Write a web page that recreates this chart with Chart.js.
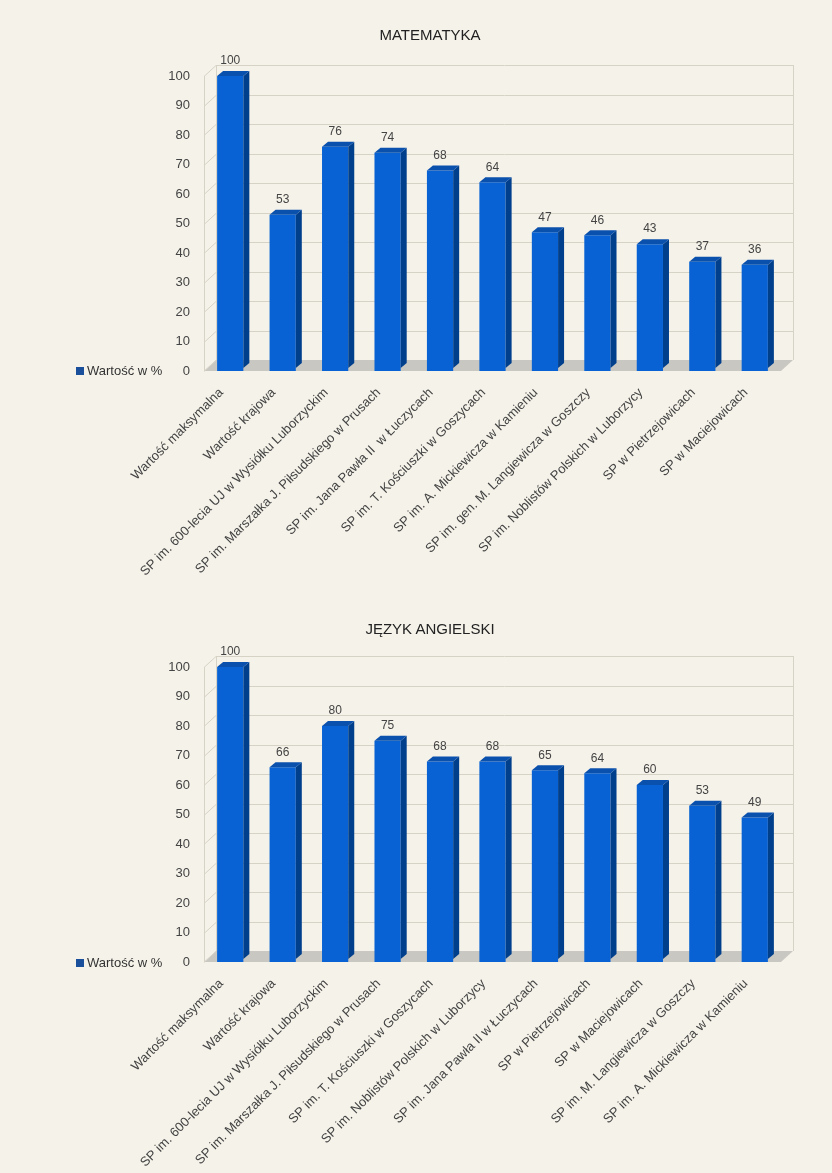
<!DOCTYPE html>
<html>
<head>
<meta charset="utf-8">
<script src="https://cdn.jsdelivr.net/npm/chart.js@4/dist/chart.umd.min.js"></script>
<style>
  html, body { margin: 0; padding: 0; background: #f5f2e9; overflow: hidden; }
  body { width: 832px; height: 1173px; font-family: "Liberation Sans", Arial, sans-serif; }
  .box { position: absolute; left: 0; width: 832px; height: 590px; }
  .title { position: absolute; left: 230px; width: 400px; text-align: center; font-size: 15px; line-height: 17px; color: #222; }
  .legend { position: absolute; left: 76px; font-size: 13px; line-height: 15px; color: #333; }
  .legend span { display: inline-block; width: 8px; height: 8px; background: #1a4f9c; margin-right: 3px; }
</style>
</head>
<body>

<div class="box" style="top:0">
  <canvas id="mat" width="832" height="590"></canvas>
  <div class="title" style="top:26px">MATEMATYKA</div>
  <div class="legend" style="top:363px"><span></span>Wartość w %</div>
</div>

<div class="box" style="top:591px">
  <canvas id="ang" width="832" height="590"></canvas>
  <div class="title" style="top:29px">JĘZYK ANGIELSKI</div>
  <div class="legend" style="top:364px"><span></span>Wartość w %</div>
</div>

<script>
// ---------------------- DATA ---------------------
const matLabels = [
  "Wartość maksymalna",
  "Wartość krajowa",
  "SP im. 600-lecia UJ w Wysiółku Luborzyckim",
  "SP im. Marszałka J. Piłsudskiego w Prusach",
  "SP im. Jana Pawła II  w Łuczycach",
  "SP im. T. Kościuszki w Goszycach",
  "SP im. A. Mickiewicza w Kamieniu",
  "SP im. gen. M. Langiewicza w Goszczy",
  "SP im. Noblistów Polskich w Luborzycy",
  "SP w Pietrzejowicach",
  "SP w Maciejowicach"
];
const matValues = [100, 53, 76, 74, 68, 64, 47, 46, 43, 37, 36];

const angLabels = [
  "Wartość maksymalna",
  "Wartość krajowa",
  "SP im. 600-lecia UJ w Wysiółku Luborzyckim",
  "SP im. Marszałka J. Piłsudskiego w Prusach",
  "SP im. T. Kościuszki w Goszycach",
  "SP im. Noblistów Polskich w Luborzycy",
  "SP im. Jana Pawła II w Łuczycach",
  "SP w Pietrzejowicach",
  "SP w Maciejowicach",
  "SP im. M. Langiewicza w Goszczy",
  "SP im. A. Mickiewicza w Kamieniu"
];
const angValues = [100, 66, 80, 75, 68, 68, 65, 64, 60, 53, 49];

const seriesName = "Wartość w %";

// ---------------------- 3D LOOK ---------------------
const wallPlugin = {
  id: "wall",
  beforeDatasetsDraw(chart) {
    const { ctx, chartArea: a, scales } = chart;
    const dx = 12, dy = 11;
    ctx.save();
    // floor
    ctx.fillStyle = "#c9c7c1";
    ctx.beginPath();
    ctx.moveTo(a.left, a.bottom);
    ctx.lineTo(a.right, a.bottom);
    ctx.lineTo(a.right + dx, a.bottom - dy);
    ctx.lineTo(a.left + dx, a.bottom - dy);
    ctx.closePath();
    ctx.fill();
    // grid on the back and left walls
    ctx.strokeStyle = "#d6d2c6";
    ctx.lineWidth = 1;
    scales.y.ticks.forEach(t => {
      const py = Math.round(scales.y.getPixelForValue(t.value)) + 0.5;
      ctx.beginPath();
      ctx.moveTo(a.left, py);
      ctx.lineTo(a.left + dx, py - dy);
      if (t.value > 0) ctx.lineTo(a.right + dx, py - dy);
      ctx.stroke();
    });
    ctx.beginPath();
    ctx.moveTo(a.left + 0.5, a.top);
    ctx.lineTo(a.left + 0.5, a.bottom);
    ctx.moveTo(a.left + dx + 0.5, a.top - dy);
    ctx.lineTo(a.left + dx + 0.5, a.bottom - dy);
    ctx.moveTo(a.right + dx + 0.5, a.top - dy);
    ctx.lineTo(a.right + dx + 0.5, a.bottom - dy);
    ctx.stroke();
    ctx.restore();
  },
  afterDatasetsDraw(chart) {
    const { ctx } = chart;
    const meta = chart.getDatasetMeta(0);
    const values = chart.data.datasets[0].data;
    const d = 6;
    ctx.save();
    meta.data.forEach((bar, i) => {
      const x1 = bar.x - bar.width / 2, x2 = bar.x + bar.width / 2;
      const top = bar.y, base = bar.base - 3;
      // side
      ctx.fillStyle = "#003f8c";
      ctx.beginPath();
      ctx.moveTo(x2, top);
      ctx.lineTo(x2 + d, top - d + 1);
      ctx.lineTo(x2 + d, base - d + 1);
      ctx.lineTo(x2, base);
      ctx.closePath();
      ctx.fill();
      // cap
      ctx.fillStyle = "#0a50ad";
      ctx.beginPath();
      ctx.moveTo(x1, top);
      ctx.lineTo(x1 + d, top - d + 1);
      ctx.lineTo(x2 + d, top - d + 1);
      ctx.lineTo(x2, top);
      ctx.closePath();
      ctx.fill();
      // value label
      ctx.fillStyle = "#444";
      ctx.font = "12px 'Liberation Sans', Arial, sans-serif";
      ctx.textAlign = "center";
      ctx.textBaseline = "bottom";
      ctx.fillText(values[i], bar.x, top - 9);
    });
    ctx.restore();
  }
};

// ---------------------- CHARTS ---------------------
function makeChart(id, labels, values) {
  return new Chart(document.getElementById(id).getContext("2d"), {
    type: "bar",
    data: {
      labels: labels,
      datasets: [{
        label: seriesName,
        data: values,
        backgroundColor: "#0862d4",
        borderWidth: 0,
        barPercentage: 0.5,
        categoryPercentage: 1
      }]
    },
    options: {
      responsive: false,
      animation: false,
      layout: { padding: { top: 76, left: 157, right: 51, bottom: 0 } },
      plugins: {
        legend: { display: false },
        tooltip: { enabled: false }
      },
      scales: {
        x: {
          grid: { display: false },
          border: { display: false },
          ticks: {
            color: "#444",
            font: { size: 13, family: "'Liberation Sans', Arial, sans-serif" },
            minRotation: 45,
            maxRotation: 45,
            autoSkip: false,
            padding: 6,
            labelOffset: -9
          },
          afterFit(scale) { scale.height = 219; }
        },
        y: {
          min: 0,
          max: 100,
          grid: { display: false, drawTicks: false },
          border: { display: false },
          ticks: {
            stepSize: 10,
            color: "#444",
            font: { size: 13, family: "'Liberation Sans', Arial, sans-serif" },
            padding: 14
          },
          afterFit(scale) { scale.width = 47; }
        }
      }
    },
    plugins: [wallPlugin]
  });
}

makeChart("mat", matLabels, matValues);
makeChart("ang", angLabels, angValues);
</script>
</body>
</html>
